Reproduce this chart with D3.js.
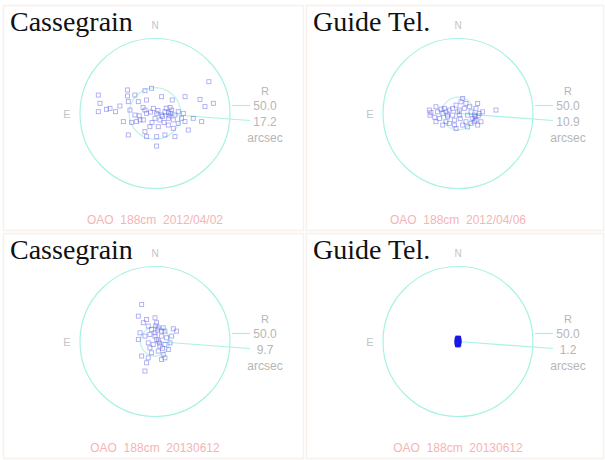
<!DOCTYPE html>
<html>
<head>
<meta charset="utf-8">
<script src="https://cdn.jsdelivr.net/npm/d3@7"></script>
<style>
  body { margin: 0; background: #fff; }
  svg { display: block; }
</style>
</head>
<body>
<div id="chart"></div>
<script>
// offsets in arcsec: [x (west to the right), y (north up)]
const casA = [
  [35.9, 21.2], [-37.8, 12.3], [-18.3, 15.7], [-13.4, 12.3], [-18.3, 11.7], [-6.7, 15.2],
  [-2.3, 16.8], [-36.7, 6.8], [-37.8, 1.2], [-32.3, 2.8], [-30.0, 3.4], [-26.3, 1.2],
  [-23.4, 5.0], [-17.8, 7.9], [-11.1, 7.9], [-5.6, 9.0], [4.4, 11.2], [11.5, 9.0],
  [20.0, 11.2], [30.0, 9.4], [33.3, 4.6], [38.9, 6.8], [-6.7, 2.3], [-5.6, 0.1],
  [-1.1, 3.4], [1.1, 0.1], [4.4, -1.0], [6.6, 1.2], [8.9, -3.2], [11.1, 2.3],
  [13.3, -1.0], [15.5, 1.2], [18.9, 0.1], [17.7, -3.2], [-16.7, 2.3], [-13.4, -1.0],
  [-7.8, -4.3], [0.0, -3.2], [3.3, -4.3], [12.2, -4.3], [15.5, -6.6], [20.0, -5.4],
  [25.5, -3.2], [31.1, -5.4], [-21.1, -5.4], [-15.6, -5.9], [-12.3, -5.4], [-10.0, -4.3],
  [-3.4, -8.8], [2.2, -8.8], [8.9, -7.7], [12.2, -9.9], [22.2, -11.0], [-17.8, -14.3],
  [-6.7, -12.1], [-5.6, -15.4], [1.1, -15.4], [6.6, -14.3], [13.3, -15.4], [1.1, -21.7],
  [-3.0, 1.0], [2.0, 2.0], [5.0, -2.0], [-8.0, 4.0], [9.0, 0.5], [6.0, -6.0],
  [-2.0, -6.0], [10.0, 4.0], [-10.5, -1.5], [7.5, 3.5], [9.5, -1.5], [10.5, 0.0]
];
const guideA = [
  [-19.1, 2.3], [-18.0, 0.7], [-18.7, -1.1], [-14.7, 4.5], [-11.3, 2.9], [-9.1, 3.4],
  [-10.2, 0.0], [-8.0, 1.1], [-5.8, 2.3], [-6.9, -2.2], [-3.6, 3.4], [-1.3, 5.6],
  [0.9, 2.3], [2.0, 7.8], [3.1, 10.0], [5.3, 6.7], [7.6, 4.5], [8.7, 1.1],
  [12.0, 3.4], [13.1, 6.7], [14.2, 0.0], [10.9, -1.1], [6.4, -1.1], [0.9, -1.1],
  [-2.4, -4.4], [-8.0, -5.5], [-10.2, -7.7], [-5.8, -6.6], [-1.3, -10.0], [3.1, -7.7],
  [5.3, -5.5], [8.7, -6.6], [10.9, -5.5], [13.1, -7.7], [12.0, -4.4], [16.4, 1.1],
  [25.3, 2.3], [-12.4, -3.3], [-14.7, -5.5], [4.2, 3.4], [-3.6, -1.1], [-0.2, 1.1],
  [9.8, -3.3], [15.3, -5.5], [-2.4, -7.7], [6.4, -8.9], [-13.6, 1.1], [11.5, -2.0],
  [-7.0, -1.0], [1.5, -3.5], [13.5, -1.5], [-15.5, -2.5]
];
const casB = [
  [-8.9, 24.7], [-11.1, 16.9], [-5.6, 14.7], [-7.8, 12.5], [0.0, 15.8], [1.1, 12.5],
  [-4.5, 10.3], [-2.3, 8.0], [2.2, 9.1], [5.5, 9.1], [6.6, 6.9], [12.2, 8.5],
  [14.4, 6.9], [-10.0, 5.8], [-6.7, 3.6], [-11.1, 1.4], [-3.4, 4.7], [0.0, 3.6],
  [4.4, 3.6], [7.7, 2.5], [2.2, 0.3], [-4.5, -0.9], [-1.2, -2.0], [3.3, -3.1],
  [6.6, -2.0], [10.0, -0.9], [8.9, -5.3], [2.2, -6.4], [-2.3, -7.5], [5.5, -8.6],
  [-8.9, -9.7], [-4.5, -10.9], [4.4, -12.0], [-5.6, -14.2], [6.6, -10.9], [-6.7, -19.7],
  [0.0, 5.8], [4.4, 6.9], [1.1, 1.4], [-3.4, -4.2], [11.1, 3.6], [0.5, 10.5],
  [3.0, -1.0], [1.5, 7.5], [5.0, -4.5]
];
const guideB = [
  [0.0, 0.0], [0.3, 1.0], [-0.3, -1.0], [0.2, 1.8], [-0.2, -1.8], [0.5, 0.5],
  [-0.5, -0.5], [0.4, -1.2], [-0.4, 1.2], [0.0, 2.3], [0.0, -2.3], [0.6, 0.0],
  [-0.6, 0.0], [0.2, -0.4], [-0.1, 0.6], [0.3, 2.0], [-0.3, -2.0], [0.5, -1.6],
  [-0.5, 1.6], [0.1, 1.4], [-0.1, -1.4], [0.6, 1.0], [-0.6, -1.0]
];

const titles = ['Cassegrain', 'Guide Tel.', 'Cassegrain', 'Guide Tel.'];
const footers = ['OAO\u00a0\u00a0188cm\u00a0\u00a02012/04/02', 'OAO\u00a0\u00a0188cm\u00a0\u00a02012/04/06',
                 'OAO\u00a0\u00a0188cm\u00a0\u00a020130612', 'OAO\u00a0\u00a0188cm\u00a0\u00a020130612'];
const rmsValues = [17.2, 10.9, 9.7, 1.2];
const maxR = 50.0;
const series = [casA, guideA, casB, guideB];

const width = 605, height = 460;
const svg = d3.select('#chart').append('svg')
    .attr('width', width).attr('height', height);

svg.append('defs').append('filter').attr('id', 'soft')
    .append('feGaussianBlur').attr('stdDeviation', 0.4);

// panel frames: [left, top, width, height]
const frames = [[3, 5, 300, 225], [306, 5, 297, 225], [3, 233, 300, 225], [306, 233, 297, 225]];

series.forEach(function (data, i) {
    let f = frames[i],
        cx = f[0] + 152,
        cy = f[1] + 108.5,
        rad = 75;

    let x = d3.scaleLinear().domain([-maxR, maxR]).range([cx - rad, cx + rad]),
        y = d3.scaleLinear().domain([-maxR, maxR]).range([cy + rad, cy - rad]);

    let g = svg.append('g');

    g.append('rect')
        .attr('x', f[0] + 0.5).attr('y', f[1] + 0.5)
        .attr('width', f[2]).attr('height', f[3])
        .attr('fill', 'none').attr('stroke', '#f7f0ec').attr('stroke-width', 1.5);

    // outer and rms circles
    g.append('circle')
        .attr('cx', x(0)).attr('cy', y(0))
        .attr('r', x(maxR) - x(0))
        .attr('fill', 'none').attr('stroke', '#a8f2e4').attr('stroke-width', 1.2);

    g.append('circle')
        .attr('cx', x(0)).attr('cy', y(0))
        .attr('r', x(rmsValues[i]) - x(0))
        .attr('fill', 'none').attr('stroke', '#bff3ea').attr('stroke-width', 1.2);

    // pointer lines to the labels
    let lx = cx + 95;
    g.append('line')
        .attr('x1', x(0)).attr('y1', y(0))
        .attr('x2', lx).attr('y2', cy + 7)
        .attr('stroke', '#a8f2e4').attr('stroke-width', 1.2);
    g.append('line')
        .attr('x1', cx + rad + 2).attr('y1', cy - 8)
        .attr('x2', lx).attr('y2', cy - 8)
        .attr('stroke', '#a8f2e4').attr('stroke-width', 1.2);

    g.append('g').attr('filter', 'url(#soft)')
        .selectAll('rect').data(data).enter().append('rect')
        .attr('x', function (d) { return x(d[0]) - 2; })
        .attr('y', function (d) { return y(d[1]) - 2; })
        .attr('width', 4).attr('height', 4)
        .attr('fill', i === 3 ? '#1a1ae6' : 'none')
        .attr('stroke', i === 3 ? '#1a1ae6' : '#5a5ae6')
        .attr('stroke-opacity', i === 3 ? 1 : 0.5)
        .attr('stroke-width', 0.9);

    let gray = '#b6b6b6';
    g.append('text').text('N')
        .attr('x', cx).attr('y', f[1] + 24)
        .attr('text-anchor', 'middle')
        .attr('font-family', 'Liberation Sans, Arial, sans-serif')
        .attr('font-size', 10).attr('fill', '#c4c4c4');
    g.append('text').text('E')
        .attr('x', cx - 88).attr('y', cy + 4)
        .attr('text-anchor', 'middle')
        .attr('font-family', 'Liberation Sans, Arial, sans-serif')
        .attr('font-size', 11).attr('fill', '#c4c4c4');

    let labels = ['R', maxR.toFixed(1), rmsValues[i].toFixed(1), 'arcsec'],
        offsets = [-23.5, -8, 7.5, 23.5];
    labels.forEach(function (t, k) {
        g.append('text').text(t)
            .attr('x', cx + 110).attr('y', cy + offsets[k] + 4.5)
            .attr('text-anchor', 'middle')
            .attr('font-family', 'Liberation Sans, Arial, sans-serif')
            .attr('font-size', k === 0 ? 11 : 12).attr('fill', gray);
    });

    g.append('text').text(titles[i])
        .attr('x', f[0] + 7).attr('y', f[1] + 26)
        .attr('font-family', 'Liberation Serif, Times New Roman, serif')
        .attr('font-size', 28).attr('fill', '#111');

    g.append('text').text(footers[i])
        .attr('x', cx).attr('y', f[1] + 219)
        .attr('text-anchor', 'middle')
        .attr('font-family', 'Liberation Sans, Arial, sans-serif')
        .attr('font-size', 12).attr('fill', '#f6b4b4');
});
</script>
</body>
</html>
